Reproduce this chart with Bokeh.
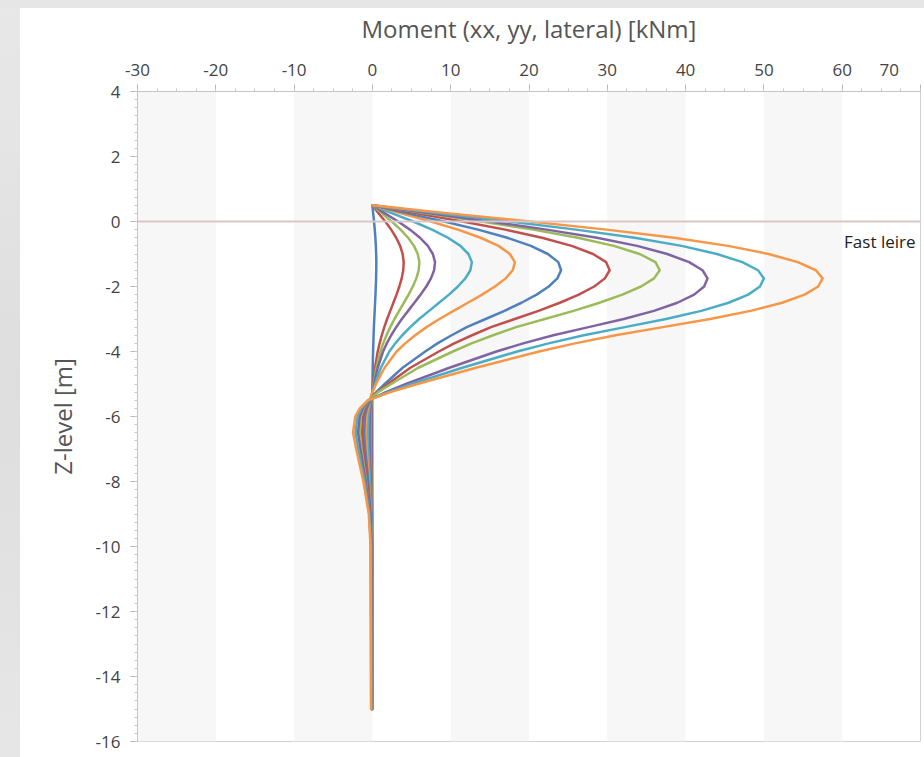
from bokeh.plotting import figure
from bokeh.models import Range1d, FixedTicker, Span, Label, BoxAnnotation, Div
from bokeh.layouts import row, column
from bokeh.embed import file_html
from bokeh.resources import INLINE

# ---------------- data ----------------
z_levels = [0.5, 0.25, 0.0, -0.25, -0.5, -0.75, -1.0, -1.25, -1.5, -1.75, -2.0, -2.25,
            -2.5, -2.75, -3.0, -3.25, -3.5, -3.75, -4.0, -4.5, -5.0, -5.25, -5.5, -5.75,
            -6.0, -6.5, -7.0, -7.5, -8.0, -9.0, -10.0, -15.0]

m01 = [0, 0.1, 0.21, 0.3, 0.38, 0.44, 0.48, 0.5, 0.49, 0.47, 0.43, 0.39, 0.34, 0.29, 0.24,
       0.19, 0.15, 0.12, 0.09, 0.04, 0.01, 0.0, -0.01, -0.02, -0.02, -0.02, -0.02, -0.02,
       -0.01, -0.01, 0.0, 0.0]
m02 = [0, 0.8, 1.64, 2.4, 3.04, 3.54, 3.86, 4.0, 3.94, 3.74, 3.44, 3.08, 2.68, 2.28, 1.88,
       1.52, 1.2, 0.92, 0.68, 0.34, 0.1, 0.0, -0.08, -0.13, -0.16, -0.18, -0.16, -0.13,
       -0.1, -0.05, -0.02, -0.02]
m03 = [0, 1.2, 2.46, 3.6, 4.56, 5.31, 5.79, 6.0, 5.91, 5.61, 5.16, 4.62, 4.02, 3.42, 2.82,
       2.28, 1.8, 1.38, 1.02, 0.51, 0.15, 0.0, -0.12, -0.19, -0.24, -0.27, -0.24, -0.19,
       -0.15, -0.07, -0.04, -0.03]
m04 = [0, 1.6, 3.28, 4.8, 6.08, 7.08, 7.72, 8.0, 7.88, 7.48, 6.88, 6.16, 5.36, 4.56, 3.76,
       3.04, 2.4, 1.84, 1.36, 0.68, 0.2, 0.0, -0.16, -0.26, -0.32, -0.36, -0.32, -0.26,
       -0.2, -0.1, -0.05, -0.04]
m05 = [0, 2.54, 5.21, 7.62, 9.65, 11.24, 12.26, 12.7, 12.51, 11.87, 10.92, 9.78, 8.51, 7.24,
       5.97, 4.83, 3.81, 2.92, 2.16, 1.08, 0.32, 0.0, -0.25, -0.41, -0.51, -0.57, -0.51,
       -0.41, -0.32, -0.15, -0.08, -0.06]
m06 = [0, 3.64, 7.46, 10.92, 13.83, 16.11, 17.56, 18.2, 17.93, 17.02, 15.65, 14.01, 12.19,
       10.37, 8.55, 6.92, 5.46, 4.19, 3.09, 1.55, 0.46, 0.0, -0.36, -0.58, -0.73, -0.82,
       -0.73, -0.58, -0.46, -0.22, -0.11, -0.09]
m07 = [0, 4.46, 9.16, 13.5, 17.23, 20.24, 22.41, 23.74, 24.1, 23.62, 22.53, 20.97, 19.04,
       16.87, 14.46, 12.05, 10.12, 8.31, 6.75, 3.86, 1.57, 0.48, -0.29, -0.72, -0.96, -1.06,
       -0.92, -0.72, -0.53, -0.24, -0.12, -0.1]
m08 = [0, 5.61, 11.51, 16.97, 21.66, 25.45, 28.18, 29.85, 30.3, 29.69, 28.33, 26.36, 23.94,
       21.21, 18.18, 15.15, 12.73, 10.45, 8.48, 4.85, 1.97, 0.61, -0.36, -0.91, -1.21, -1.33,
       -1.15, -0.91, -0.67, -0.3, -0.15, -0.12]
m09 = [0, 6.79, 13.95, 20.55, 26.24, 30.83, 34.13, 36.15, 36.7, 35.97, 34.31, 31.93, 28.99,
       25.69, 22.02, 18.35, 15.41, 12.66, 10.28, 5.87, 2.39, 0.73, -0.44, -1.1, -1.47, -1.61,
       -1.39, -1.1, -0.81, -0.37, -0.18, -0.15]
m10 = [0, 7.28, 14.98, 22.26, 28.68, 33.81, 37.66, 40.45, 42.16, 42.8, 42.37, 41.09, 38.95,
       35.95, 32.1, 27.61, 23.11, 19.26, 15.84, 9.84, 4.28, 1.71, -0.43, -1.2, -1.63, -1.84,
       -1.54, -1.2, -0.86, -0.34, -0.17, -0.13]
m11 = [0, 8.5, 17.5, 26.0, 33.5, 39.5, 44.0, 47.25, 49.25, 50.0, 49.5, 48.0, 45.5, 42.0,
       37.5, 32.25, 27.0, 22.5, 18.5, 11.5, 5.0, 2.0, -0.5, -1.4, -1.9, -2.15, -1.8, -1.4,
       -1.0, -0.4, -0.2, -0.15]
m12 = [0, 9.78, 20.13, 29.9, 38.53, 45.43, 50.6, 54.34, 56.64, 57.5, 56.93, 55.2, 52.33,
       48.3, 43.13, 37.09, 31.05, 25.88, 21.28, 13.23, 5.75, 2.3, -0.58, -1.61, -2.19, -2.47,
       -2.07, -1.61, -1.15, -0.46, -0.23, -0.17]

series = [m01, m02, m03, m04, m05, m06, m07, m08, m09, m10, m11, m12]
palette = ["#4F81BD", "#C0504D", "#9BBB59", "#8064A2", "#4BACC6", "#F79646"]

x_ticks = [-30, -20, -10, 0, 10, 20, 30, 40, 50, 60, 70]
y_ticks = [4, 2, 0, -2, -4, -6, -8, -10, -12, -14, -16]
shaded_bands = [(-30, -20), (-10, 0), (10, 20), (30, 40), (50, 60)]
layer_level = 0.0
layer_name = "Fast leire"

FONT = "Open Sans"

# ---------------- figure ----------------
p = figure(width=904, height=749, output_backend="svg", toolbar_location=None,
           x_range=Range1d(-30, 70), y_range=Range1d(-16, 4),
           x_axis_location="above",
           min_border_left=117, min_border_right=4, min_border_top=80, min_border_bottom=16)

p.background_fill_color = "white"
p.border_fill_color = "white"
p.outline_line_color = "#d2d2d2"
p.outline_line_width = 1
p.xgrid.grid_line_color = None
p.ygrid.grid_line_color = None

for lo, hi in shaded_bands:
    p.add_layout(BoxAnnotation(left=lo, right=hi, fill_color="#f7f7f7", fill_alpha=1.0,
                               line_color=None, level="underlay"))

x_minor = [v / 2 for v in range(-60, 141, 5)]
y_minor = [v / 4 for v in range(-64, 17)]
p.xaxis.ticker = FixedTicker(ticks=x_ticks, minor_ticks=x_minor)
p.yaxis.ticker = FixedTicker(ticks=y_ticks, minor_ticks=y_minor)
# plain hyphen minus signs; the last x label is kept inside the chart
x_labels = {t: str(t) for t in x_ticks}
x_labels[x_ticks[-1]] = str(x_ticks[-1]) + "\u2002\u2002\u2002"
p.xaxis.major_label_overrides = x_labels
p.yaxis.major_label_overrides = {t: str(t) for t in y_ticks}

for ax in (p.xaxis[0], p.yaxis[0]):
    ax.axis_line_color = "#c4c4c4"
    ax.major_tick_line_color = "#b5b5b5"
    ax.minor_tick_line_color = "#c8c8c8"
    ax.major_tick_in = 0
    ax.major_tick_out = 7
    ax.minor_tick_in = 0
    ax.minor_tick_out = 3
    ax.major_label_text_font = FONT
    ax.major_label_text_font_size = "17px"
    ax.major_label_text_color = "#444444"
    ax.axis_label_text_font = FONT
    ax.axis_label_text_font_size = "24px"
    ax.axis_label_text_font_style = "normal"
    ax.axis_label_text_color = "#555555"

p.xaxis.axis_label = "Moment (xx, yy, lateral) [kNm]"
p.xaxis.major_label_standoff = 4
p.xaxis.axis_label_standoff = 10
p.yaxis.axis_label = "Z-level [m]"
p.yaxis.major_label_standoff = 10
p.yaxis.axis_label_standoff = 14

# soil layer line
p.add_layout(Span(location=layer_level, dimension="width", line_color="#d9c6c9", line_width=2))
p.add_layout(Label(x=70, y=layer_level, text=layer_name, text_align="right",
                   text_baseline="top", x_offset=-5, y_offset=-8,
                   text_font=FONT, text_font_size="17px", text_color="#222222"))

for i, m in enumerate(series):
    p.line(m, z_levels, line_color=palette[i % len(palette)], line_width=2.5,
           line_join="round", line_cap="round")

# grey window edges around the chart panel
top_strip = Div(width=924, height=8, margin=0, styles={"background-color": "#e6e6e6"})
left_strip = Div(width=20, height=749, margin=0,
                 styles={"background": "linear-gradient(to bottom, #e8e8e8, #dedede 50%, #e6e6e6)"})
layout = column(top_strip, row(left_strip, p, spacing=0), spacing=0)

open("out.html", "w").write(file_html(layout, INLINE))
